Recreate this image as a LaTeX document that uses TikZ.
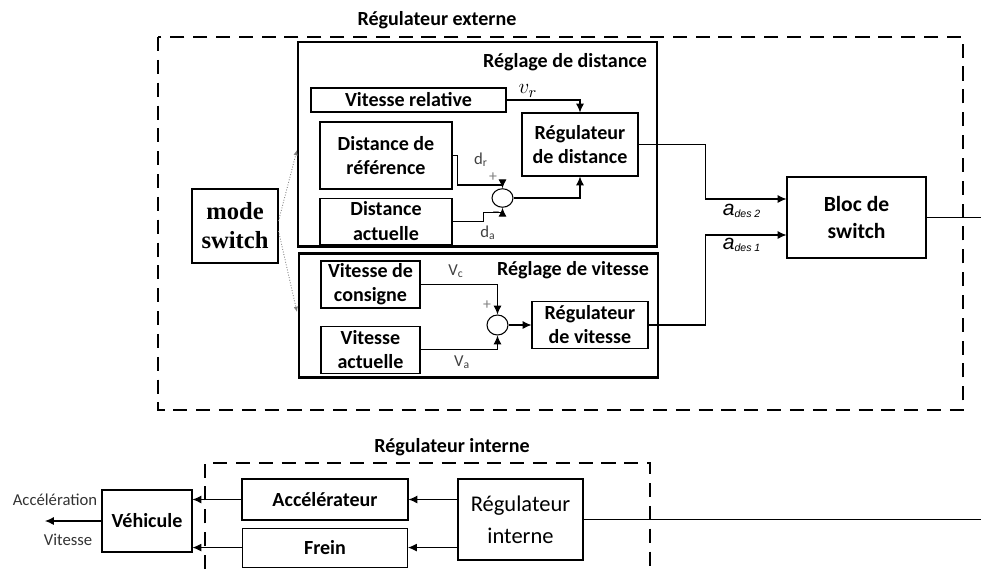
\documentclass[tikz,border=0pt]{standalone}
\usepackage{fontspec}
\setmainfont{Carlito}
\newfontfamily\timesf{Liberation Serif}
\newfontfamily\arialf{Liberation Sans}
\usetikzlibrary{arrows.meta, positioning, shapes.geometric, calc}

\begin{document}
\begin{tikzpicture}[
    x=0.02cm, y=-0.02cm,
    font=\fontsize{11.4}{13.7}\selectfont,
    box/.style={draw, line width=0.6pt, align=center, inner sep=0pt,
      font=\fontsize{11.4}{13.7}\selectfont\bfseries},
    sum/.style={draw, ellipse, line width=0.6pt, minimum width=0.42cm,
      minimum height=0.37cm, inner sep=0pt},
    grp/.style={draw, line width=1.7pt},
    zone/.style={draw, line width=1.2pt, dash pattern=on 8pt off 5pt},
    ttl/.style={font=\fontsize{11.4}{13.7}\selectfont\bfseries},
    arr/.style={-{Latex[length=5pt, width=4.5pt]}, line width=0.6pt},
    wire/.style={line width=0.6pt},
    sig/.style={font=\fontsize{9.5}{11}\selectfont, text=black!75, inner sep=1pt},
    pm/.style={font=\fontsize{9}{10}\selectfont, text=gray, inner sep=0pt},
    ades/.style={font=\arialf\itshape\fontsize{9}{10}\selectfont, inner sep=1pt},
    sw/.style={-{Latex[length=3pt, width=2.5pt]}, densely dotted, gray, line width=0.5pt},
  ]
  \useasboundingbox (0,0) rectangle (981,569);

  \draw[zone] (158,37) rectangle (963,410);
  \draw[zone] (205,569) -- (205,463) -- (650,463) -- (650,569);
  \draw[grp] (298,42) rectangle (657,246);
  \draw[grp] (299,253) rectangle (658,377);

  \node[ttl] (text) at (437,20) {Régulateur externe};
  \node[ttl] (tdist) at (565,62) {Réglage de distance};
  \node[ttl] (tvit) at (573,270) {Réglage de vitesse};
  \node[ttl] (tint) at (452,447) {Régulateur interne};

  \node[box, minimum width=3.9cm, minimum height=0.48cm] (vrel) at (408.5,100) {Vitesse relative};
  \node[box, minimum width=2.64cm, minimum height=1.34cm] (dref) at (386,155.5) {Distance de\\référence};
  \node[box, minimum width=2.64cm, minimum height=0.92cm, below=0.16cm of dref] (dact) {Distance\\actuelle};
  \node[sum] (sumd) at (502.5,198) {};
  \node[box, minimum width=2.32cm, minimum height=1.26cm] (regd) at (580,144.5) {Régulateur\\de distance};

  \node[box, minimum width=1.98cm, minimum height=0.94cm] (vcons) at (370.5,284.5) {Vitesse de\\consigne};
  \node[box, minimum width=1.98cm, minimum height=0.94cm, below=0.34cm of vcons] (vact) {Vitesse\\actuelle};
  \node[sum, minimum height=0.4cm] (sumv) at (497.5,325) {};
  \node[box, minimum width=2.32cm, minimum height=0.94cm] (regv) at (590,325) {Régulateur\\de vitesse};

  \node[draw, line width=0.6pt, minimum width=1.72cm, minimum height=1.48cm, align=center,
    font=\timesf\bfseries\fontsize{14}{16.5}\selectfont] (mode) at (235,226) {mode\\switch};
  \node[box, minimum width=2.78cm, minimum height=1.62cm,
    font=\fontsize{12.3}{15.4}\selectfont\bfseries] (blocsw) at (856.5,217.5) {Bloc de\\switch};

  \node[box, minimum width=1.8cm, minimum height=1.24cm] (vehic) at (147,521) {Véhicule};
  \node[box, minimum width=3.32cm, minimum height=0.82cm] (accel) at (325,499.5) {Accélérateur};
  \node[box, minimum width=3.3cm, minimum height=0.78cm, below=0.14cm of accel] (frein) {Frein};
  \node[box, minimum width=2.5cm, minimum height=1.62cm,
    font=\fontsize{12.8}{18}\selectfont] (regint) at (520.5,519.5) {Régulateur\\interne};

  \node[font=\fontsize{13}{14}\selectfont] (lvr) at (528,91) {$v_r$};
  \node[sig] (ldr) at (481,160) {d\textsubscript{r}};
  \node[pm] (pdr) at (493,177) {+};
  \node[sig] (lda) at (488,233) {d\textsubscript{a}};
  \node[pm] (pda) at (496,214) {–};
  \node[sig] (lvc) at (456,271) {V\textsubscript{c}};
  \node[pm] (pvc) at (487,305) {+};
  \node[sig] (lva) at (462,362) {V\textsubscript{a}};
  \node[ades] (la2) at (742,211) {{\fontsize{12}{12}\selectfont a}\textsubscript{des 2}};
  \node[ades] (la1) at (742,245) {{\fontsize{12}{12}\selectfont a}\textsubscript{des 1}};
  \node[sig, text=black!80] (lacc) at (55,500) {Accélération};
  \node[sig, text=black!80] (lvit) at (68,540) {Vitesse};

  \coordinate (in2) at ($(blocsw.west)+(0,-18.5)$);
  \coordinate (in1) at ($(blocsw.west)+(0,17.5)$);
  \coordinate (fd) at (297,150);
  \coordinate (fv) at (297,312);
  \coordinate (swout) at (981,217.5);
  \coordinate (vout) at (45,521);
  \coordinate (rout) at (981,519.5);

  \draw[arr] (vrel.east) -| (regd.north);
  \draw[arr] (dref.east) -- ++(5,0) -- ++(0,29.5) -| (sumd.north);
  \draw[arr] (dact.east) -- ++(31,0) -- ++(0,-9) -| (sumd.south);
  \draw[arr] (sumd.east) -| (regd.south);
  \draw[arr] (vcons.east) -| (sumv.north);
  \draw[arr] (vact.east) -| (sumv.south);
  \draw[arr] (sumv.east) -- (regv.west);
  \draw[arr] (regd.east) -- ++(67,0) |- (in2);
  \draw[arr] (regv.east) -- ++(57,0) |- (in1);
  \draw[wire] (blocsw.east) -- (swout);
  \draw[sw] ($(mode.east)+(0,-5)$) -- (fd);
  \draw[sw] ($(mode.east)+(0,5)$) -- (fv);
  \draw[arr] (regint.west |- accel.east) -- (accel.east);
  \draw[arr] (regint.west |- frein.east) -- (frein.east);
  \draw[arr] (accel.west) -- (vehic.east |- accel.west);
  \draw[arr] (frein.west) -- (vehic.east |- frein.west);
  \draw[arr] (vehic.west) -- (vout);
  \draw[wire, line width=1pt] (regint.east) -- (rout);
\end{tikzpicture}
\end{document}
